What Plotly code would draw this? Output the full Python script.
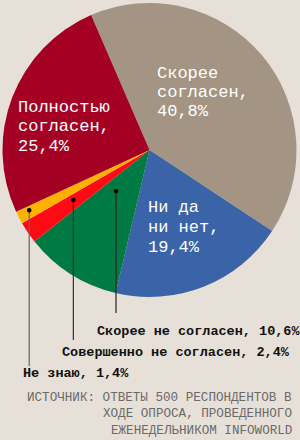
import math
import plotly.graph_objects as go

# ---- data ----
categories = ["Скорее согласен", "Ни да ни нет", "Скорее не согласен",
              "Совершенно не согласен", "Не знаю", "Полностью согласен"]
values = [40.8, 19.4, 10.6, 2.4, 1.4, 25.4]
colors = ["#A39483", "#3A63A8", "#007A43", "#FF0A14", "#FFB100", "#A30023"]

inside_labels = {
    0: ["Скорее", "согласен,", "40,8%"],
    1: ["Ни да", "ни нет,", "19,4%"],
    5: ["Полностью", "согласен,", "25,4%"],
}
outside_labels = {
    2: "Скорее не согласен, 10,6%",
    3: "Совершенно не согласен, 2,4%",
    4: "Не знаю, 1,4%",
}
source_lines = ["ИСТОЧНИК: ОТВЕТЫ 500 РЕСПОНДЕНТОВ В",
                "ХОДЕ ОПРОСА, ПРОВЕДЕННОГО",
                "ЕЖЕНЕДЕЛЬНИКОМ INFOWORLD"]

# ---- layout geometry (pixels) ----
W, H = 300, 440
BG = "#E7E0D8"
cx, cy, R = 149.5, 150, 147
rotation = -23.4

def px(x):
    return x / W

def py(y):
    return 1 - y / H

fig = go.Figure()
fig.add_trace(go.Pie(
    labels=categories, values=values, sort=False, direction="clockwise",
    rotation=rotation, marker=dict(colors=colors, line=dict(width=0)),
    textinfo="none", hoverinfo="label+percent", showlegend=False,
    domain=dict(x=[px(cx - R), px(cx + R)], y=[py(cy + R), py(cy - R)]),
))

annotations = []
shapes = []
mono = "Liberation Mono"

# inside labels: (left x, first line center y)
inside_pos = {0: (155, 73), 1: (146, 208), 5: (16, 107)}
for i, lines in inside_labels.items():
    x0, y0 = inside_pos[i]
    for k, t in enumerate(lines):
        annotations.append(dict(
            text=t, x=px(x0), y=py(y0 + k * 19.5), xref="paper", yref="paper",
            xanchor="left", yanchor="middle", showarrow=False,
            font=dict(family=mono, size=17, color="white")))

# leader lines computed from slice angles
total = sum(values)
cum = [0]
for v in values:
    cum.append(cum[-1] + v)
anchor_frac = {2: 0.68, 3: 0.6, 4: 0.65}   # position within slice (angle)
anchor_rad = {2: 0.36, 3: 0.62, 4: 0.915}  # radial fraction
line_bottom = {2: 313, 3: 340, 4: 366}
label_pos = {2: (95, 331), 3: (60, 352), 4: (21, 373)}
line_col = {2: "#222222", 3: "#333333", 4: "#666666"}
for i in outside_labels:
    a = (cum[i] + anchor_frac[i] * values[i]) / total * 360 + rotation
    ar = math.radians(a)
    dx = cx + anchor_rad[i] * R * math.sin(ar)
    dy = cy - anchor_rad[i] * R * math.cos(ar)
    shapes.append(dict(type="line", xref="paper", yref="paper",
                       x0=px(dx), y0=py(dy), x1=px(dx), y1=py(line_bottom[i]),
                       line=dict(color=line_col[i], width=1.2), layer="above"))
    shapes.append(dict(type="circle", xref="paper", yref="paper",
                       x0=px(dx - 2.3), x1=px(dx + 2.3), y0=py(dy + 2.3), y1=py(dy - 2.3),
                       fillcolor="black", line=dict(width=0), layer="above"))
    lx, ly = label_pos[i]
    annotations.append(dict(
        text="<b>" + outside_labels[i] + "</b>", x=px(lx), y=py(ly),
        xref="paper", yref="paper", xanchor="left", yanchor="middle",
        showarrow=False, font=dict(family=mono, size=13.5, color="#111111")))

for k, t in enumerate(source_lines):
    annotations.append(dict(
        text=t, x=px(294), y=py(398 + k * 16.3), xref="paper", yref="paper",
        xanchor="right", yanchor="middle", showarrow=False,
        font=dict(family=mono, size=12.6, color="#6A6A6A")))

fig.update_layout(
    width=W, height=H, margin=dict(l=0, r=0, t=0, b=0),
    paper_bgcolor=BG, plot_bgcolor=BG,
    annotations=annotations, shapes=shapes,
)
fig.write_html("out.html")
